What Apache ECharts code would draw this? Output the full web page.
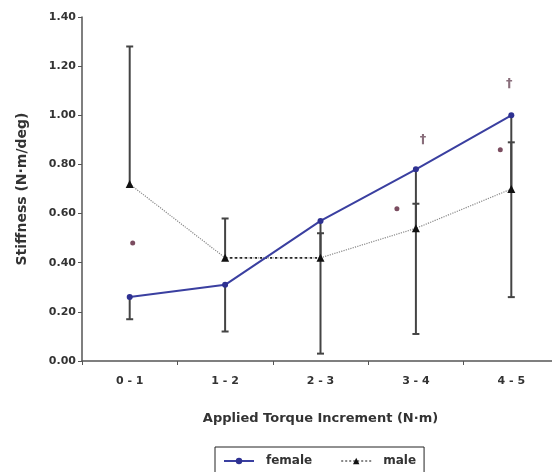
<!DOCTYPE html>
<html>
<head>
<meta charset="utf-8">
<script src="https://cdn.jsdelivr.net/npm/echarts@6/dist/echarts.min.js"></script>
<style>html,body{margin:0;padding:0;background:#fff;}#c{width:552px;height:472px;}</style>
</head>
<body>
<div id="c"></div>
<script>
// ---- data ----
const categories = ['0 - 1', '1 - 2', '2 - 3', '3 - 4', '4 - 5'];
const femaleValues = [0.26, 0.31, 0.57, 0.78, 1.00];
const maleValues = [0.72, 0.42, 0.42, 0.54, 0.70];
const femaleErrLow = [0.17, 0.12, 0.03, 0.11, 0.26];
const maleErrHigh = [1.28, 0.58, 0.52, 0.64, 0.89];
const starValues = [0.48, null, null, 0.62, 0.86];
const daggerValues = [null, null, null, 0.90, 1.13];
const yTicks = { min: 0, max: 1.4, interval: 0.2 };

// ---- build ----
const starOffsets = [3, 0, 0, -19, -11];
const daggerOffsets = [0, 0, 0, 7, -2];
const errData = [];
categories.forEach((c, i) => {
  errData.push([i, femaleErrLow[i], femaleValues[i], 0]);
  errData.push([i, maleValues[i], maleErrHigh[i], 1]);
});
const starData = [];
starValues.forEach((v, i) => { if (v != null) starData.push({ value: [i, v], symbolOffset: [starOffsets[i], 0] }); });
const daggerData = [];
daggerValues.forEach((v, i) => { if (v != null) daggerData.push({ value: [i, v], label: { offset: [daggerOffsets[i], 0] } }); });
// darker dotted segment between 1-2 and 2-3 (as in the original)
const maleDarkSeg = maleValues.map((v, i) => (i === 1 || i === 2) ? v : null);

const font = 'DejaVu Sans, Verdana, sans-serif';
const chart = echarts.init(document.getElementById('c'), null, { renderer: 'canvas' });
chart.setOption({
  animation: false,
  backgroundColor: '#fff',
  grid: { left: 82, width: 477, top: 17, bottom: 111, containLabel: false, outerBoundsMode: 'none' },
  xAxis: {
    type: 'category',
    data: categories,
    name: 'Applied Torque Increment (N·m)',
    nameLocation: 'middle',
    nameGap: 51,
    nameTextStyle: { fontFamily: font, fontWeight: 'bold', fontSize: 13, color: '#333' },
    axisLine: { lineStyle: { color: '#555', width: 1.5 } },
    axisTick: { show: true, length: 4, lineStyle: { color: '#555' } },
    axisLabel: { fontFamily: font, fontWeight: 'bold', fontSize: 11, color: '#333', margin: 15 },
    splitLine: { show: false }
  },
  yAxis: {
    type: 'value',
    min: yTicks.min, max: yTicks.max, interval: yTicks.interval,
    name: 'Stiffness (N·m/deg)',
    nameLocation: 'middle',
    nameGap: 53,
    nameTextStyle: { fontFamily: font, fontWeight: 'bold', fontSize: 14, color: '#333' },
    axisLine: { show: true, lineStyle: { color: '#555', width: 1.5 } },
    axisTick: { show: true, length: 4, lineStyle: { color: '#555' } },
    axisLabel: { fontFamily: font, fontWeight: 'bold', fontSize: 11, color: '#333', margin: 6, formatter: v => v.toFixed(2) },
    splitLine: { show: false }
  },
  legend: {
    data: ['female', 'male'],
    left: 215, top: 447,
    orient: 'horizontal',
    borderColor: '#222', borderWidth: 1, borderRadius: 0,
    padding: [8, 8, 10, 8],
    itemGap: 28,
    itemWidth: 30, itemHeight: 8,
    textStyle: { fontFamily: font, fontWeight: 'bold', fontSize: 12, color: '#333', padding: [0, 0, 0, 7] }
  },
  series: [
    {
      type: 'custom',
      name: 'err',
      data: errData,
      z: 1,
      renderItem: function (params, api) {
        const x = api.coord([api.value(0), api.value(1)])[0];
        const y1 = api.coord([api.value(0), api.value(1)])[1];
        const y2 = api.coord([api.value(0), api.value(2)])[1];
        const capY = api.value(3) === 0 ? y1 : y2;
        const st = { stroke: '#444', lineWidth: 2 };
        return {
          type: 'group',
          children: [
            { type: 'line', shape: { x1: x, y1: y1, x2: x, y2: y2 }, style: st },
            { type: 'line', shape: { x1: x - 3.5, y1: capY, x2: x + 3.5, y2: capY }, style: st }
          ]
        };
      },
      encode: { x: 0, y: [1, 2] },
      silent: true
    },
    {
      name: 'female',
      type: 'line',
      data: femaleValues,
      z: 3,
      symbol: 'circle', symbolSize: 6,
      itemStyle: { color: '#2e3192' },
      lineStyle: { color: '#3a3fa0', width: 2 }
    },
    {
      name: 'male',
      type: 'line',
      data: maleValues,
      z: 2,
      symbol: 'triangle', symbolSize: 8,
      itemStyle: { color: '#111' },
      lineStyle: { color: '#888', width: 1.2, type: 'dotted' }
    },
    {
      name: 'maleSeg',
      type: 'line',
      data: maleDarkSeg,
      z: 2,
      symbol: 'none',
      connectNulls: false,
      lineStyle: { color: '#222', width: 1.8, type: [2, 3] }
    },
    {
      type: 'scatter',
      name: 'star',
      data: starData,
      symbol: 'circle', symbolSize: 5,
      itemStyle: { color: '#5a2038' },
      z: 4
    },
    {
      type: 'scatter',
      name: 'dagger',
      data: daggerData,
      symbolSize: 1,
      itemStyle: { color: 'rgba(0,0,0,0)' },
      label: { show: true, position: 'inside', formatter: '†', fontFamily: font, fontSize: 13, fontWeight: 'bold', color: '#6b4a5a' },
      z: 4
    }
  ]
});
</script>
</body>
</html>
